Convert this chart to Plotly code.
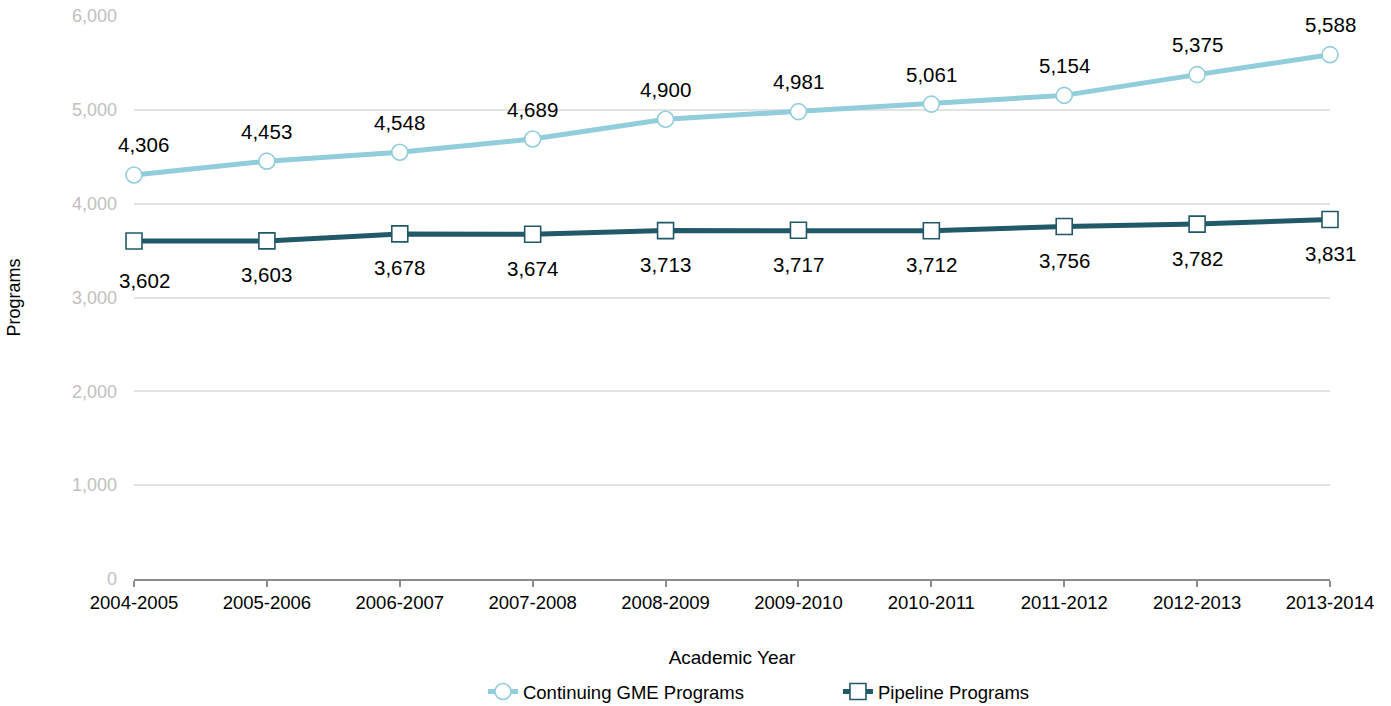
import plotly.graph_objects as go

years = ["2004-2005", "2005-2006", "2006-2007", "2007-2008", "2008-2009",
         "2009-2010", "2010-2011", "2011-2012", "2012-2013", "2013-2014"]
continuing = [4306, 4453, 4548, 4689, 4900, 4981, 5061, 5154, 5375, 5588]
pipeline = [3602, 3603, 3678, 3674, 3713, 3717, 3712, 3756, 3782, 3831]
y_ticks = [0, 1000, 2000, 3000, 4000, 5000, 6000]

light = "#92CDDC"
dark = "#215968"
font = "Liberation Sans, Arial, sans-serif"

fig = go.Figure()
fig.add_trace(go.Scatter(
    x=years, y=continuing, mode="lines+markers", name="Continuing GME Programs",
    line=dict(color=light, width=5), cliponaxis=False,
    marker=dict(symbol="circle", size=16, color="white", line=dict(color=light, width=1.6)),
))
fig.add_trace(go.Scatter(
    x=years, y=pipeline, mode="lines+markers", name="Pipeline Programs",
    line=dict(color=dark, width=5), cliponaxis=False,
    marker=dict(symbol="square", size=16, color="white", line=dict(color=dark, width=1.6)),
))

annotations = []
for i, (x, v) in enumerate(zip(years, continuing)):
    annotations.append(dict(x=x, y=v, text=f"{v:,}", showarrow=False, yshift=30,
                            xshift=9 if i == 0 else 0,
                            font=dict(size=20.5, color="#000000", family=font)))
for i, (x, v) in enumerate(zip(years, pipeline)):
    annotations.append(dict(x=x, y=v, text=f"{v:,}", showarrow=False,
                            yshift=-39 if i == 0 else -34,
                            xshift=10 if i == 0 else 0,
                            font=dict(size=20.5, color="#000000", family=font)))

fig.update_layout(
    width=1391, height=706,
    margin=dict(l=134, r=61, t=16, b=127, autoexpand=False),
    paper_bgcolor="white", plot_bgcolor="white",
    font=dict(family=font, size=18, color="#000000"),
    showlegend=True,
    legend=dict(orientation="h", x=0.5886, xanchor="center", y=-0.2007, yanchor="middle",
                font=dict(size=18.5, color="#000000"),
                entrywidth=310, entrywidthmode="pixels"),
    annotations=annotations,
    xaxis=dict(
        type="category", range=[0, len(years) - 1], automargin=False,
        showgrid=False, showline=True, linecolor="#8c8c8c", linewidth=2,
        ticks="outside", ticklen=6, tickcolor="#8c8c8c", tickwidth=2,
        tickfont=dict(size=18.5, color="#000000"),
        title=dict(text="Academic Year", font=dict(size=19, color="#000000"), standoff=38),
    ),
    yaxis=dict(
        range=[0, 6000], tickvals=y_ticks, ticktext=[f"{t:,}" for t in y_ticks],
        automargin=False,
        showgrid=True, gridcolor="#e3e3e3", gridwidth=2,
        zeroline=False, showline=False,
        tickfont=dict(size=18, color="#c0c0c0"), ticklabelstandoff=16,
        title=dict(text="Programs", font=dict(size=18, color="#000000"), standoff=46),
    ),
)

fig.write_html("out.html", config={"displayModeBar": False},
               post_script="document.body.style.margin='0';")
